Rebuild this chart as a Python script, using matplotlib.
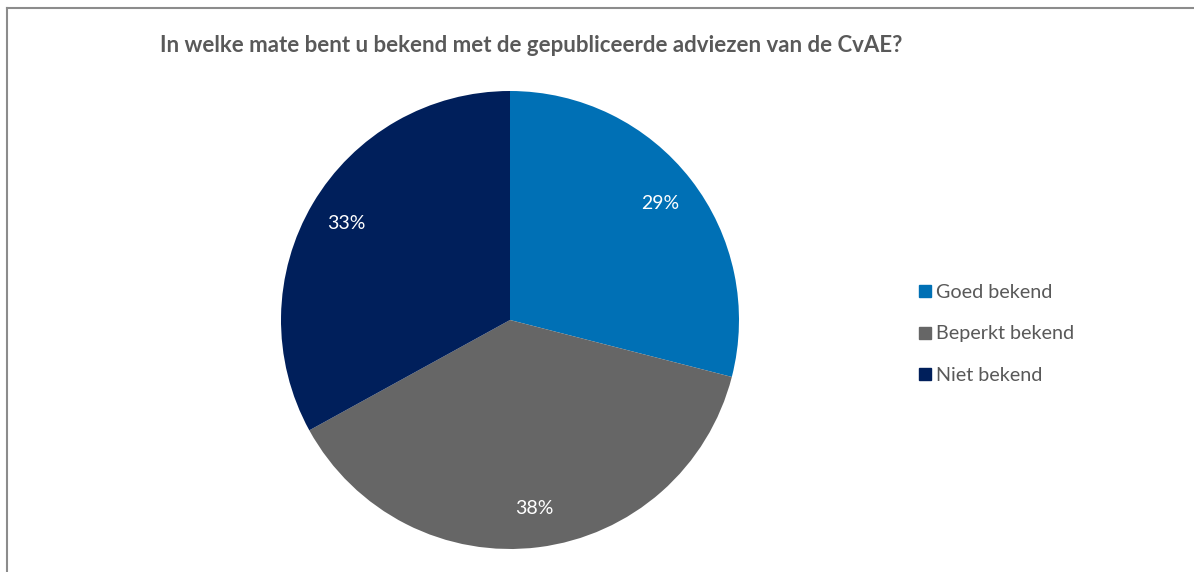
import matplotlib.pyplot as plt
from matplotlib.lines import Line2D

plt.rcParams['font.family'] = ['Lato', 'DejaVu Sans']

titel = "In welke mate bent u bekend met de gepubliceerde adviezen van de CvAE?"
categorieen = ['Goed bekend', 'Beperkt bekend', 'Niet bekend']
percentages = [29, 38, 33]
kleuren = ['#0070b5', '#666666', '#001f5b']
tekstkleur = '#595959'

W, H = 1194, 572
fig = plt.figure(figsize=(W / 100, H / 100), dpi=100)

# rand van het grafiekvak (alleen boven en links zichtbaar)
fig.add_artist(Line2D([7 / W, 7 / W], [0, 1 - 8 / H], color='#8c8c8c', lw=1.5))
fig.add_artist(Line2D([7 / W, 1], [1 - 8 / H, 1 - 8 / H], color='#8c8c8c', lw=1.5))

# taart: middelpunt (510, 320), straal 229 px
cx, cy, r = 510, 320, 229
ax = fig.add_axes([(cx - r) / W, (H - cy - r) / H, 2 * r / W, 2 * r / H])
wedges, teksten, pct = ax.pie(percentages, colors=kleuren, startangle=90,
                              counterclock=False, radius=1,
                              autopct='%d%%', pctdistance=0.83,
                              textprops={'color': 'white', 'fontsize': 14})
ax.set_xlim(-1, 1)
ax.set_ylim(-1, 1)
ax.set_aspect('equal')
ax.axis('off')

fig.text(160 / W, 1 - 45 / H, titel, fontsize=16, fontweight='bold',
         color=tekstkleur, ha='left', va='center')

handles = [Line2D([], [], marker='s', ls='', markersize=8.5, color=k)
           for k in kleuren]
leg = fig.legend(handles, categorieen, loc='center left',
                 bbox_to_anchor=(901 / W, 1 - 334 / H), frameon=False,
                 fontsize=14.2, labelcolor=tekstkleur, handlelength=0.6,
                 handletextpad=0.3, labelspacing=1.25)

fig.savefig('out.png', dpi=100)
